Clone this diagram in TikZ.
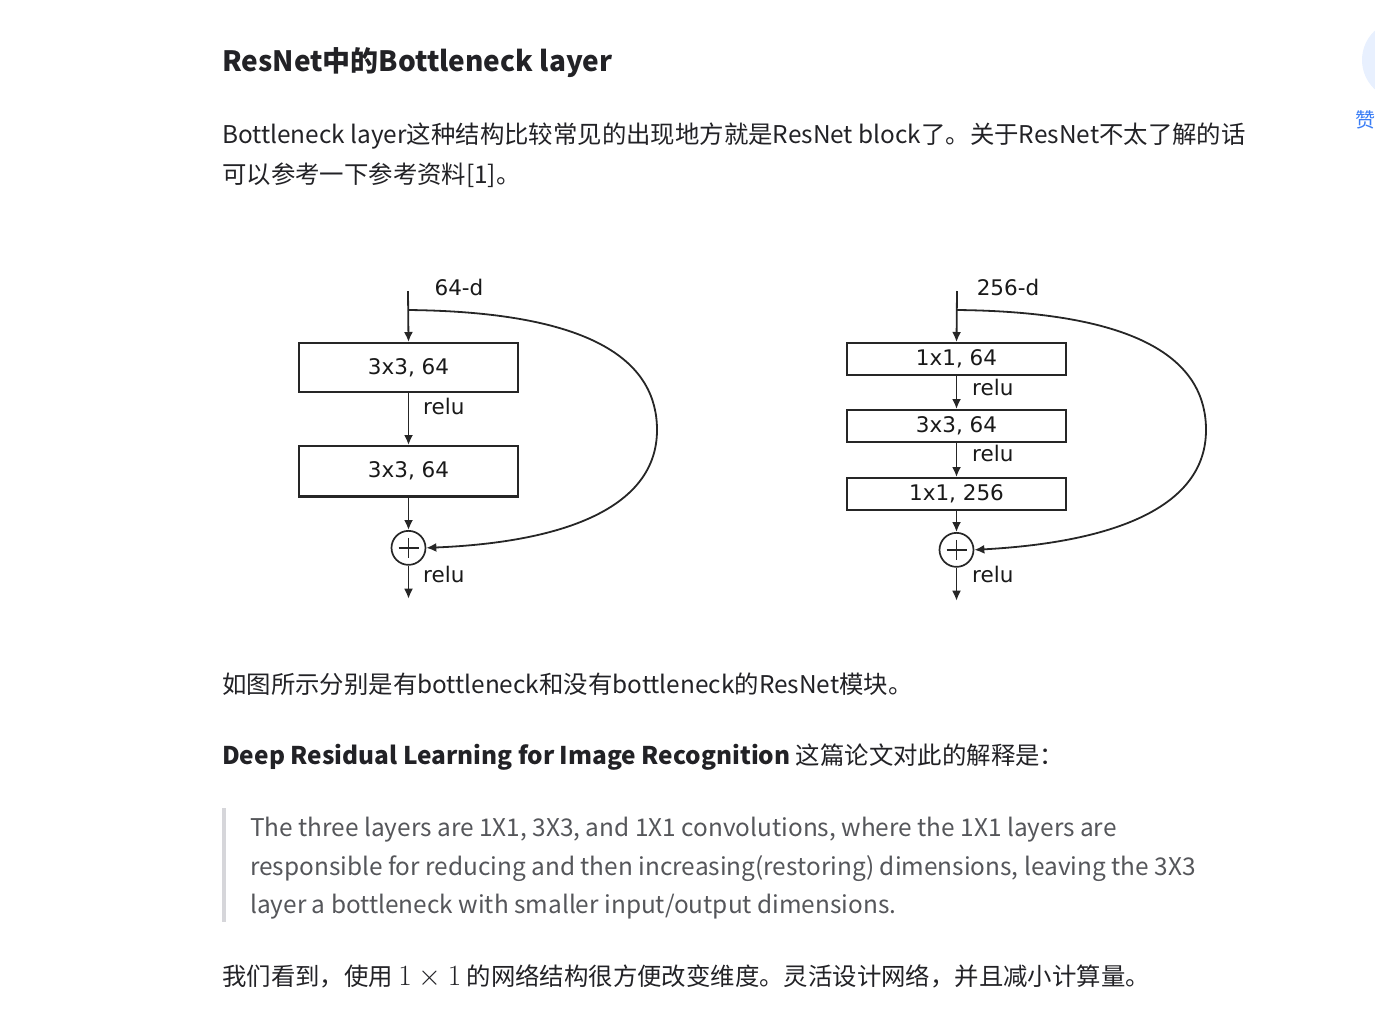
\documentclass[tikz,border=0pt]{standalone}
\usepackage{graphicx}
\usepackage{fontspec}
\setmainfont{Noto Sans CJK SC}
\newfontfamily\figfont{DejaVu Sans}
\usetikzlibrary{arrows.meta, calc, positioning}
\definecolor{bodytext}{RGB}{34,34,38}
\definecolor{quotetext}{RGB}{85,86,90}
\definecolor{quotebar}{RGB}{214,214,218}
\definecolor{likeblue}{RGB}{58,125,245}
\definecolor{likecircle}{RGB}{232,240,254}
\tikzstyle{heading} = [anchor=base west, inner sep=0pt, text=bodytext, font=\fontsize{28}{28}\selectfont\bfseries]
\tikzstyle{para} = [anchor=base west, inner sep=0pt, text=bodytext, font=\fontsize{24.4}{24.4}\selectfont]
\tikzstyle{quote} = [para, text=quotetext]
\tikzstyle{layer} = [rectangle, line width=2pt, minimum width=219pt, text centered, draw=black!85, text=black!90, font=\figfont\fontsize{21.5}{21.5}\selectfont]
\tikzstyle{addop} = [circle, line width=1.7pt, minimum size=34pt, inner sep=0pt, draw=black!85]
\tikzstyle{note} = [inner sep=0pt, text=black!90, font=\figfont\fontsize{21.5}{21.5}\selectfont]
\tikzstyle{arrow} = [line width=1.8pt, -{Latex[length=10pt,width=9pt]}, draw=black!85]
\tikzstyle{plus} = [line width=1.7pt, draw=black!85]

\begin{document}
\begin{tikzpicture}[x=1pt, y=-1pt]
	\useasboundingbox (0,0) rectangle (1375,1026);
	% page text
	\node (Title) [heading] at (222,71) {ResNet中的Bottleneck layer};
	\node (IntroA) [para] at (222,143) {Bottleneck layer这种结构比较常见的出现地方就是ResNet block了。关于ResNet不太了解的话};
	\node (IntroB) [para] at (222,183) {可以参考一下参考资料[1]。};
	\node (Caption) [para] at (222,693) {如图所示分别是有bottleneck和没有bottleneck的ResNet模块。};
	\node (PaperRef) [para] at (222,764) {\textbf{Deep Residual Learning for Image Recognition} 这篇论文对此的解释是：};
	\fill [quotebar] (222,808) rectangle (226,922);
	\node (QuoteA) [quote] at (250,836) {The three layers are 1X1, 3X3, and 1X1 convolutions, where the 1X1 layers are};
	\node (QuoteB) [quote] at (250,875) {responsible for reducing and then increasing(restoring) dimensions, leaving the 3X3};
	\node (QuoteC) [quote] at (250,913) {layer a bottleneck with smaller input/output dimensions.};
	\node (Summary) [para] at (222,985) {我们看到，使用 \scalebox{1.18}{$1\times1$} 的网络结构很方便改变维度。灵活设计网络，并且减小计算量。};
	% like button
	\fill [likecircle] (1402,60) circle (40);
	\node (Like) [text=likeblue, font=\fontsize{20}{20}\selectfont] at (1365,120) {赞};
	% plain block
	\coordinate (InPlain) at (408,291);
	\coordinate (SplitPlain) at (408,310);
	\node (PlainDim) [note] at (459,287) {64-d};
	\node (PlainConvA) [layer, minimum height=49pt] at (408.5,367.5) {3x3, 64};
	\node (PlainConvB) [layer, minimum height=50pt, below = 52pt of PlainConvA] {3x3, 64};
	\node (PlainSum) [addop, below = 33pt of PlainConvB] {};
	\coordinate (OutPlain) at ($(PlainSum.south)+(0,33)$);
	\node (PlainReluA) [note, anchor=west] at (423,406) {relu};
	\node (PlainReluB) [note, anchor=west] at (423,574) {relu};
	\draw [line width=2.8pt, black!85] (PlainConvB.south west) -- (PlainConvB.south east);
	\draw [plus] ($(PlainSum.center)+(-10,0)$) -- ($(PlainSum.center)+(10,0)$);
	\draw [plus] ($(PlainSum.center)+(0,-10)$) -- ($(PlainSum.center)+(0,10)$);
	\draw [arrow] (InPlain) -- (PlainConvA.north);
	\draw [arrow] (PlainConvA) -- (PlainConvB);
	\draw [arrow] (PlainConvB) -- (PlainSum);
	\draw [arrow] (PlainSum) -- (OutPlain);
	\draw [arrow] (SplitPlain) .. controls (600,312) and (657,365) .. (657,430) .. controls (657,505) and (570,542) .. (PlainSum.east);
	% bottleneck block
	\coordinate (InNeck) at (957,291);
	\coordinate (SplitNeck) at (957,310);
	\node (NeckDim) [note] at (1008,287) {256-d};
	\node (NeckReduce) [layer, minimum height=32pt] at (956.5,359) {1x1, 64};
	\node (NeckConv) [layer, minimum height=32pt, below = 33pt of NeckReduce] {3x3, 64};
	\node (NeckExpand) [layer, minimum height=32pt, below = 34pt of NeckConv] {1x1, 256};
	\node (NeckSum) [addop, below = 21pt of NeckExpand] {};
	\coordinate (OutNeck) at ($(NeckSum.south)+(0,33)$);
	\node (NeckReluA) [note, anchor=west] at (972,387) {relu};
	\node (NeckReluB) [note, anchor=west] at (972,453) {relu};
	\node (NeckReluC) [note, anchor=west] at (972,574) {relu};
	\draw [plus] ($(NeckSum.center)+(-10,0)$) -- ($(NeckSum.center)+(10,0)$);
	\draw [plus] ($(NeckSum.center)+(0,-10)$) -- ($(NeckSum.center)+(0,10)$);
	\draw [arrow] (InNeck) -- (NeckReduce.north);
	\draw [arrow] (NeckReduce) -- (NeckConv);
	\draw [arrow] (NeckConv) -- (NeckExpand);
	\draw [arrow] (NeckExpand) -- (NeckSum);
	\draw [arrow] (NeckSum) -- (OutNeck);
	\draw [arrow] (SplitNeck) .. controls (1149,312) and (1206,365) .. (1206,430) .. controls (1206,505) and (1119,542) .. (NeckSum.east);
\end{tikzpicture}
\end{document}
